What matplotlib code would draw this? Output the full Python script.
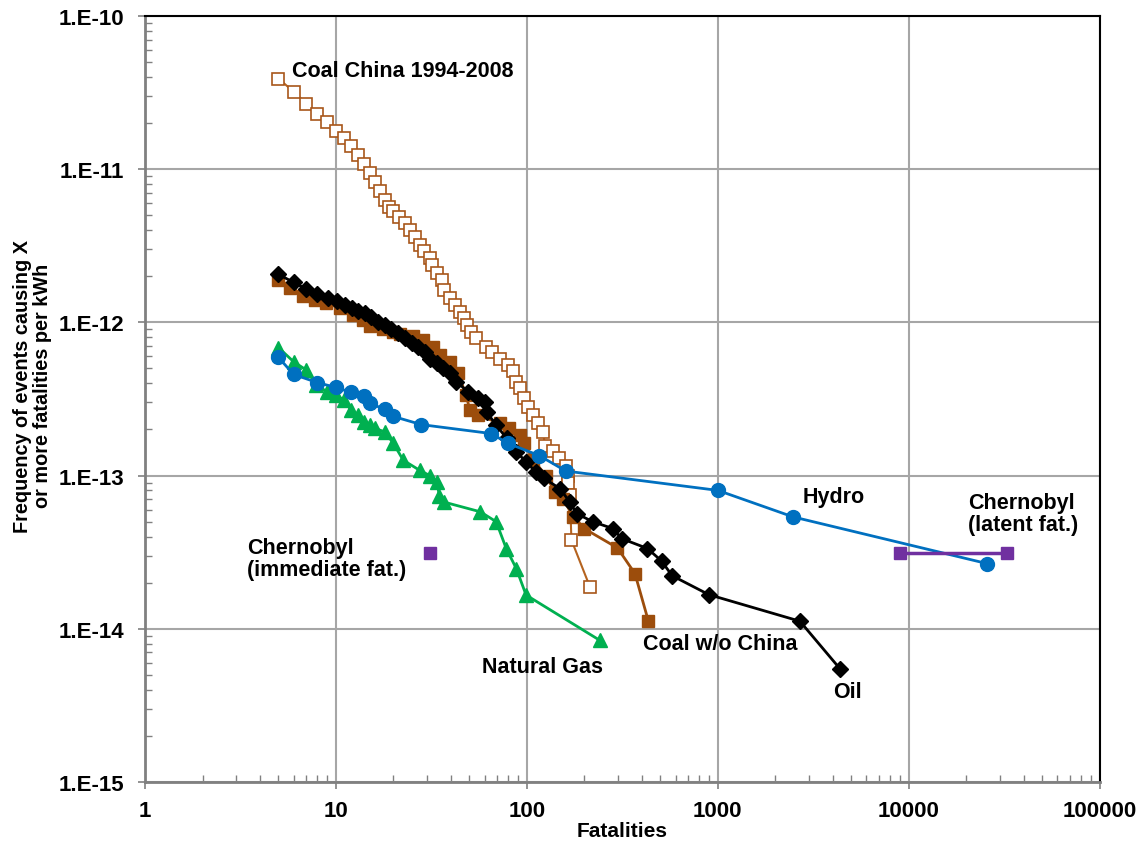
import matplotlib
matplotlib.use('Agg')
import matplotlib.pyplot as plt
from matplotlib.ticker import FixedLocator, LogLocator, NullFormatter

plt.rcParams['font.family'] = ['Liberation Sans', 'DejaVu Sans']

# Coal China 1994-2008 (open squares)
china_x = [5, 6, 7, 8, 9, 10, 11, 12, 13, 14, 15, 16, 17, 18, 19, 20, 21.5, 23, 24.5, 26,
           27.5, 29, 31, 32, 34, 36, 37, 39.5, 42, 44.5, 47, 48.5, 51, 54, 61, 66, 72, 80, 85,
           88, 92, 97, 101, 108, 114, 122, 124, 137, 148, 160, 164, 165, 168, 171, 214]
china_y = [3.9e-11, 3.2e-11, 2.67e-11, 2.29e-11, 2.02e-11, 1.78e-11, 1.6e-11, 1.41e-11, 1.23e-11,
           1.08e-11, 9.5e-12, 8.3e-12, 7.2e-12, 6.3e-12, 5.7e-12, 5.3e-12, 4.9e-12, 4.43e-12,
           4.0e-12, 3.63e-12, 3.2e-12, 2.9e-12, 2.62e-12, 2.35e-12, 2.09e-12, 1.89e-12, 1.63e-12,
           1.44e-12, 1.3e-12, 1.17e-12, 1.06e-12, 9.6e-13, 8.7e-13, 7.85e-13, 6.9e-13, 6.45e-13,
           5.8e-13, 5.25e-13, 4.8e-13, 4.1e-13, 3.7e-13, 3.2e-13, 2.8e-13, 2.48e-13, 2.2e-13,
           1.93e-13, 1.55e-13, 1.45e-13, 1.3e-13, 1.15e-13, 1.0e-13, 9.0e-14, 7.5e-14, 3.8e-14,
           1.87e-14]

# Coal w/o China (filled squares)
coal_x = [5, 5.75, 6.75, 7.8, 8.9, 10.5, 12.3, 13.9, 15, 17.7, 20, 21.6, 25.4, 28.6, 32.3, 34.9,
          39.5, 43.6, 48, 50.3, 55.5, 72, 81, 92, 97, 108, 126, 140, 154, 175, 200, 298, 368, 432]
coal_y = [1.89e-12, 1.67e-12, 1.49e-12, 1.4e-12, 1.33e-12, 1.24e-12, 1.12e-12, 1.04e-12, 9.4e-13,
          9.1e-13, 8.7e-13, 8.4e-13, 8.1e-13, 7.7e-13, 6.9e-13, 6.1e-13, 5.5e-13, 4.65e-13,
          3.35e-13, 2.67e-13, 2.48e-13, 2.19e-13, 2.03e-13, 1.83e-13, 1.62e-13, 1.26e-13, 1.0e-13,
          7.8e-14, 7.08e-14, 5.4e-14, 4.5e-14, 3.37e-14, 2.29e-14, 1.13e-14]

# Oil (diamonds)
oil_x = [5, 6, 7, 8, 9.1, 10.1, 11.1, 12.1, 13.1, 14.2, 15.3, 16.6, 18, 19.5, 21.2, 22.9, 24.9, 27,
         29.2, 31, 33.7, 36.5, 39.5, 42.7, 49.2, 55.5, 60.3, 61.5, 69.1, 78.3, 88.1, 98.8, 111, 123,
         149, 168, 182, 221, 283, 313, 428, 507, 576, 897, 2690, 4350]
oil_y = [2.06e-12, 1.82e-12, 1.65e-12, 1.52e-12, 1.44e-12, 1.38e-12, 1.29e-12, 1.24e-12, 1.19e-12,
         1.15e-12, 1.08e-12, 1.01e-12, 9.6e-13, 9.1e-13, 8.5e-13, 7.85e-13, 7.3e-13, 6.9e-13,
         6.45e-13, 5.8e-13, 5.4e-13, 5.0e-13, 4.65e-13, 4.1e-13, 3.52e-13, 3.19e-13, 3.0e-13,
         2.6e-13, 2.13e-13, 1.75e-13, 1.43e-13, 1.23e-13, 1.06e-13, 9.6e-14, 8.2e-14, 6.7e-14,
         5.65e-14, 5.0e-14, 4.5e-14, 3.88e-14, 3.34e-14, 2.77e-14, 2.22e-14, 1.67e-14, 1.12e-14,
         5.5e-15]

# Natural Gas (triangles)
gas_x = [5, 6, 7, 7.9, 9, 10, 11, 12, 13, 14, 15, 16, 18, 20, 22.5, 27.5, 31, 33.7, 34.8, 37, 57,
         69, 78, 88, 99, 241]
gas_y = [6.84e-13, 5.53e-13, 4.88e-13, 3.89e-13, 3.52e-13, 3.35e-13, 3.11e-13, 2.67e-13, 2.48e-13,
         2.24e-13, 2.15e-13, 2.03e-13, 1.93e-13, 1.62e-13, 1.26e-13, 1.08e-13, 1.0e-13, 9.1e-14,
         7.4e-14, 6.7e-14, 5.8e-14, 5.0e-14, 3.33e-14, 2.47e-14, 1.66e-14, 8.4e-15]

# Hydro (circles)
hydro_x = [5, 6, 8, 10, 12, 14, 15, 18, 20, 28, 65, 79.8, 116, 160, 1000, 2480, 25800]
hydro_y = [5.9e-13, 4.57e-13, 4.04e-13, 3.76e-13, 3.49e-13, 3.3e-13, 2.96e-13, 2.71e-13, 2.43e-13,
           2.15e-13, 1.88e-13, 1.62e-13, 1.35e-13, 1.07e-13, 8.0e-14, 5.37e-14, 2.66e-14]

# Chernobyl
chern_lat_x = [9000, 32500]
chern_lat_y = [3.1e-14, 3.1e-14]
chern_imm_x = [31]
chern_imm_y = [3.1e-14]

x_ticks = [1, 10, 100, 1000, 10000, 100000]
x_labels = ['1', '10', '100', '1000', '10000', '100000']
y_ticks = [1e-15, 1e-14, 1e-13, 1e-12, 1e-11, 1e-10]
y_labels = ['1.E-15', '1.E-14', '1.E-13', '1.E-12', '1.E-11', '1.E-10']

brown = '#9c4d0c'
blue = '#0070c0'
green = '#00b050'
purple = '#7030a0'

fig = plt.figure(figsize=(11.42, 8.45), dpi=100)
ax = fig.add_axes([0.127, 0.0734, 0.836, 0.9066])

ax.plot(china_x, china_y, color='#b5631f', lw=1.5, marker='s', ms=8.5,
        mfc='white', mec='#a8561a', mew=1.2)
ax.plot(coal_x, coal_y, color=brown, lw=2, marker='s', ms=9, mfc=brown, mec=brown)
ax.plot(oil_x, oil_y, color='black', lw=2, marker='D', ms=8, mfc='black', mec='black')
ax.plot(gas_x, gas_y, color=green, lw=2, marker='^', ms=10, mfc=green, mec=green)
ax.plot(hydro_x, hydro_y, color=blue, lw=2, marker='o', ms=10, mfc=blue, mec=blue)
ax.plot(chern_lat_x, chern_lat_y, color=purple, lw=2.5, marker='s', ms=8.5, mfc=purple, mec=purple)
ax.plot(chern_imm_x, chern_imm_y, ls='none', marker='s', ms=8.5, mfc=purple, mec=purple)

ax.set_xscale('log')
ax.set_yscale('log')
ax.set_xlim(1, 100000)
ax.set_ylim(1e-15, 1e-10)

ax.xaxis.set_major_locator(FixedLocator(x_ticks))
ax.set_xticklabels(x_labels)
ax.yaxis.set_major_locator(FixedLocator(y_ticks))
ax.set_yticklabels(y_labels)
ax.xaxis.set_minor_locator(LogLocator(base=10, subs=range(2, 10)))
ax.yaxis.set_minor_locator(LogLocator(base=10, subs=range(2, 10)))
ax.xaxis.set_minor_formatter(NullFormatter())
ax.yaxis.set_minor_formatter(NullFormatter())

ax.grid(True, which='major', color='#a6a6a6', lw=1.5)
ax.set_axisbelow(True)
ax.tick_params(which='major', direction='out', length=5, width=1.2, color='#808080',
               labelsize=16)
ax.tick_params(axis='x', which='major', pad=8)
ax.tick_params(axis='y', which='major', pad=10)
ax.tick_params(which='minor', direction='in', length=5, width=1, color='#808080')
for lab in ax.get_xticklabels() + ax.get_yticklabels():
    lab.set_fontweight('bold')

ax.spines['left'].set_color('#808080')
ax.spines['bottom'].set_color('#808080')
ax.spines['left'].set_linewidth(2)
ax.spines['bottom'].set_linewidth(2)
ax.spines['top'].set_color('black')
ax.spines['right'].set_color('black')
ax.spines['top'].set_linewidth(1.5)
ax.spines['right'].set_linewidth(1.5)

ax.set_xlabel('Fatalities', fontsize=15, fontweight='bold', labelpad=0)
ax.set_ylabel('Frequency of events causing X\nor more fatalities per kWh', fontsize=14.3,
              fontweight='bold', linespacing=1.1)
ax.yaxis.set_label_coords(-0.097, 0.518)

tk = dict(fontsize=15.5, fontweight='bold', va='center', ha='left')
ax.text(5.9, 4.4e-11, 'Coal China 1994-2008', **tk)
ax.text(2790, 7.3e-14, 'Hydro', **tk)
ax.text(20350, 5.65e-14, 'Chernobyl\n(latent fat.)', linespacing=1.05, **tk)
ax.text(3.42, 2.87e-14, 'Chernobyl\n(immediate fat.)', linespacing=1.05, **tk)
ax.text(405, 7.98e-15, 'Coal w/o China', **tk)
ax.text(58, 5.7e-15, 'Natural Gas', **tk)
ax.text(4000, 3.87e-15, 'Oil', **tk)

fig.savefig('out.png', dpi=100)
